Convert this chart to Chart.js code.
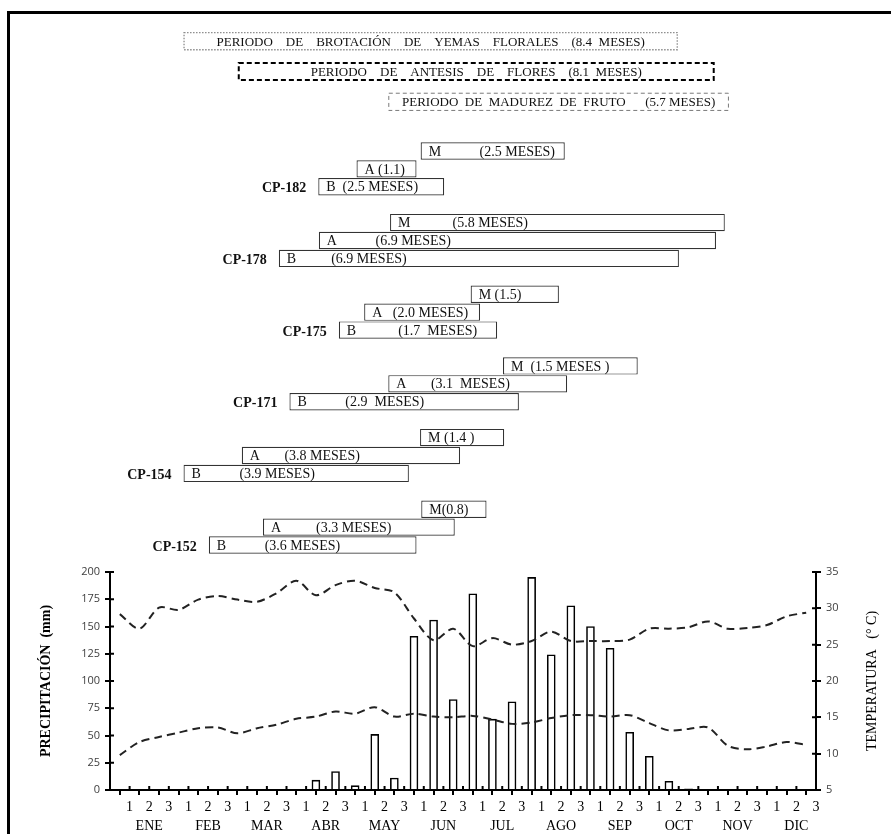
<!DOCTYPE html>
<html><head><meta charset="utf-8">
<script src="https://cdn.jsdelivr.net/npm/chart.js@4.4.0/dist/chart.umd.min.js"></script>
<style>
html,body{margin:0;padding:0;background:#fff;}
#wrap{position:relative;width:891px;height:834px;overflow:hidden;background:#fff;}
#frame{position:absolute;left:7px;top:11px;width:1000px;height:1000px;border-top:3px solid #000;border-left:3px solid #000;}
#per{position:absolute;left:0;top:0;}
#top{position:absolute;left:0;top:125px;}
#bot{position:absolute;left:0;top:556px;}
</style></head><body>
<div id="wrap"><div id="frame"></div>
<canvas id="per" width="891" height="125"></canvas>
<canvas id="top" width="891" height="431"></canvas>
<canvas id="bot" width="891" height="278"></canvas>
</div>
<script>
// ---------- DATA ----------
const months = ['ENE','FEB','MAR','ABR','MAY','JUN','JUL','AGO','SEP','OCT','NOV','DIC'];
const decadeNames = ['1','2','3'];
// precipitation per 10-day period (mm), 36 decades
const precipitation = [0,0,0,0,0,0,0,0,0,0,9,17,4,51,11,141,156,83,180,65,81,195,124,169,150,130,53,31,8,1,0,0,0,0,0,0];
// maximum temperature per decade (°C)
const tempMax = [29.2,27.2,30.1,29.8,31.2,31.7,31.2,30.9,32.1,33.8,31.8,33.2,33.8,32.8,32.2,28.6,25.6,27.2,24.8,25.9,25.0,25.5,26.8,25.5,25.5,25.5,25.7,27.2,27.2,27.4,28.2,27.2,27.3,27.7,28.9,29.4];
// minimum temperature per decade (°C)
const tempMin = [9.8,11.6,12.3,12.9,13.5,13.6,12.8,13.5,14.0,14.8,15.1,15.8,15.5,16.4,15.1,15.5,15.1,15.0,15.2,14.7,14.1,14.3,14.9,15.3,15.3,15.1,15.3,14.2,13.2,13.4,13.6,11.1,10.6,11.0,11.6,11.2];

// overall periods (month units, 0 = start of ENE)
const periodKeys = ['BROT','ANT','MAD'];
const periodTexts = [
  'PERIODO    DE    BROTACIÓN    DE    YEMAS    FLORALES    (8.4  MESES)',
  'PERIODO    DE    ANTESIS    DE    FLORES    (8.1  MESES)',
  'PERIODO  DE  MADUREZ  DE  FRUTO      (5.7 MESES)'
];
const periodStart = [1.25, 2.18, 4.73];
const periodEnd   = [9.65, 10.27, 10.52];

// clones and phases (B = brotación, A = antesis, M = madurez), month units
const clones = ['CP-182','CP-178','CP-175','CP-171','CP-154','CP-152'];
const phaseMStart = [5.28, 4.76, 6.13, 6.68, 5.27, 5.29];
const phaseMEnd   = [7.73, 10.45, 7.63, 8.97, 6.70, 6.40];
const phaseAStart = [4.19, 3.55, 4.32, 4.73, 2.24, 2.60];
const phaseAEnd   = [5.21, 10.30, 6.29, 7.77, 5.95, 5.86];
const phaseBStart = [3.54, 2.87, 3.89, 3.05, 1.25, 1.68];
const phaseBEnd   = [5.68, 9.67, 6.58, 6.95, 5.08, 5.21];
const textM = ['M'+' '.repeat(11)+'(2.5 MESES)', 'M'+' '.repeat(12)+'(5.8 MESES)', 'M (1.5)', 'M  (1.5 MESES )', 'M (1.4 )', 'M(0.8)'];
const textA = ['A (1.1)', 'A'+' '.repeat(11)+'(6.9 MESES)', 'A   (2.0 MESES)', 'A'+' '.repeat(7)+'(3.1  MESES)', 'A'+' '.repeat(7)+'(3.8 MESES)', 'A'+' '.repeat(10)+'(3.3 MESES)'];
const textB = ['B  (2.5 MESES)', 'B'+' '.repeat(10)+'(6.9 MESES)', 'B'+' '.repeat(12)+'(1.7  MESES)', 'B'+' '.repeat(11)+'(2.9  MESES)', 'B'+' '.repeat(11)+'(3.9 MESES)', 'B'+' '.repeat(11)+'(3.6 MESES)'];

// ---------- PERIODS CHART ----------
const periodStyles = [
  {color:'#8c8c8c', width:1.3, dash:[1.5,1.5]},
  {color:'#000', width:2, dash:[5,3]},
  {color:'#7a7a7a', width:1, dash:[4,3]}
];
const periodDraw = {
  id:'periodDraw',
  afterDatasetsDraw(chart){
    const ctx = chart.ctx; ctx.save();
    chart.getDatasetMeta(0).data.forEach((el,i)=>{
      const l = Math.min(el.x, el.base), r = Math.max(el.x, el.base);
      const t = el.y - el.height/2, h = el.height;
      const st = periodStyles[i];
      ctx.strokeStyle = st.color; ctx.lineWidth = st.width; ctx.setLineDash(st.dash);
      ctx.strokeRect(l+0.5, t+0.5, r-l-1, h-1);
      ctx.setLineDash([]);
      ctx.fillStyle = '#111'; ctx.font = '13px "Liberation Serif"';
      ctx.textAlign = 'center'; ctx.textBaseline = 'middle';
      ctx.fillText(chart.data.datasets[0].data[i].text, (l+r)/2, el.y+1);
    });
    ctx.restore();
  }
};
new Chart(document.getElementById('per'), {
  type:'bar',
  data:{ labels: periodKeys, datasets:[
    {data: periodTexts.map((t,i)=>({x:[periodStart[i], periodEnd[i]], y:periodKeys[i], text:t})),
     backgroundColor:'#fff', borderWidth:0, barPercentage:0.6, categoryPercentage:1}
  ]},
  options:{
    indexAxis:'y', responsive:false, animation:false, events:[],
    layout:{padding:{left:110, right:75, top:26, bottom:8}},
    plugins:{legend:{display:false}, tooltip:{enabled:false}},
    scales:{ x:{type:'linear', min:0, max:12, display:false}, y:{type:'category', display:false} }
  },
  plugins:[periodDraw]
});

// ---------- CLONES (Gantt) CHART ----------
const rows = [];
clones.forEach((c,i)=>{ rows.push(c+'M', c+'A', c+'B'); if(i<clones.length-1) rows.push('gap'+i); });
const phaseData = [];
clones.forEach((c,i)=>{
  phaseData.push({x:[phaseMStart[i], phaseMEnd[i]], y:c+'M', text:textM[i]});
  phaseData.push({x:[phaseAStart[i], phaseAEnd[i]], y:c+'A', text:textA[i]});
  phaseData.push({x:[phaseBStart[i], phaseBEnd[i]], y:c+'B', text:textB[i], clone:c});
});
const ganttText = {
  id:'ganttText',
  afterDatasetsDraw(chart){
    const ctx = chart.ctx; ctx.save();
    chart.getDatasetMeta(0).data.forEach((el,i)=>{
      const d = chart.data.datasets[0].data[i];
      const l = Math.min(el.x, el.base);
      ctx.fillStyle = '#111'; ctx.font = '14px "Liberation Serif"';
      ctx.textAlign = 'left'; ctx.textBaseline = 'middle';
      ctx.fillText(d.text, l+8, el.y+1);
      if (d.clone){
        ctx.font = 'bold 14px "Liberation Serif"';
        ctx.textAlign = 'right';
        ctx.fillText(d.clone, l-12, el.y+2);
      }
    });
    ctx.restore();
  }
};
new Chart(document.getElementById('top'), {
  type:'bar',
  data:{ labels: rows, datasets:[
    {data: phaseData, backgroundColor:'#fff', borderColor:'#333', borderWidth:1.2, borderSkipped:false, grouped:false, barPercentage:0.97, categoryPercentage:1}
  ]},
  options:{
    indexAxis:'y', responsive:false, animation:false, events:[],
    layout:{padding:{left:110, right:75, top:17, bottom:2}},
    plugins:{legend:{display:false}, tooltip:{enabled:false}},
    scales:{ x:{type:'linear', min:0, max:12, display:false}, y:{type:'category', labels: rows, display:false} }
  },
  plugins:[ganttText]
});

// ---------- BOTTOM CHART ----------
const innerTicks = {
  id:'innerTicks',
  afterDraw(chart){
    const {ctx, chartArea:a} = chart;
    const sx = chart.scales.x, sy = chart.scales.y, sy2 = chart.scales.y2;
    ctx.save(); ctx.strokeStyle='#000'; ctx.lineWidth=2; ctx.beginPath();
    sx.ticks.forEach(t=>{const p=sx.getPixelForValue(t.value); ctx.moveTo(p,a.bottom); ctx.lineTo(p,a.bottom-4);});
    sy.ticks.forEach(t=>{const p=sy.getPixelForValue(t.value); ctx.moveTo(a.left,p); ctx.lineTo(a.left+4,p);});
    sy2.ticks.forEach(t=>{const p=sy2.getPixelForValue(t.value); ctx.moveTo(a.right,p); ctx.lineTo(a.right-4,p);});
    ctx.stroke();
    // right axis title (reads bottom to top)
    ctx.fillStyle='#000'; ctx.font='14px "Liberation Serif"';
    ctx.translate(872, (a.top+a.bottom)/2); ctx.rotate(-Math.PI/2);
    ctx.textAlign='center'; ctx.textBaseline='middle';
    ctx.fillText('TEMPERATURA   (° C)', 0, 0);
    ctx.restore();
  }
};

const axisGrid = {drawOnChartArea:false, color:'#000', lineWidth:2, tickLength:5};
const axisBorder = {color:'#000', width:2};
const sansTicks = {family:'"Open Sans"', size:11};

new Chart(document.getElementById('bot'), {
  type:'bar',
  data:{ datasets:[
    {type:'bar', data: precipitation.map((v,i)=>({x:i+0.5, y:v})), yAxisID:'y', backgroundColor:'#fff', borderColor:'#000', borderWidth:1.6, barThickness:8, order:2},
    {type:'line', data: tempMax.map((v,i)=>({x:i+0.5, y:v})), yAxisID:'y2', borderColor:'#222', borderWidth:2, borderDash:[8,5], pointRadius:0, tension:0.3, fill:false, order:1},
    {type:'line', data: tempMin.map((v,i)=>({x:i+0.5, y:v})), yAxisID:'y2', borderColor:'#222', borderWidth:2, borderDash:[8,5], pointRadius:0, tension:0.3, fill:false, order:1}
  ]},
  options:{
    responsive:false, animation:false, events:[],
    layout:{padding:{left:0, right:0, top:16, bottom:0}},
    plugins:{legend:{display:false}, tooltip:{enabled:false}},
    scales:{
      x:{type:'linear', min:0, max:36, offset:false,
         ticks:{stepSize:1, autoSkip:false, maxRotation:0, color:'#000', padding:3,
                font:{family:'"Liberation Serif"', size:14, lineHeight:1.35},
                callback:(v)=>{ if(v===0) return ''; const d=(v-1)%3; return d===1 ? [decadeNames[d], months[(v-2)/3]] : decadeNames[d]; }},
         grid:axisGrid, border:axisBorder,
         afterFit:(s)=>{ s.height = 44; }},
      y:{position:'left', min:0, max:200,
         ticks:{stepSize:25, color:'#404040', padding:5, font:sansTicks},
         grid:axisGrid, border:axisBorder,
         title:{display:true, text:'PRECIPITACIÓN  (mm)', color:'#000', padding:{top:38, bottom:0},
                font:{family:'"Liberation Serif"', size:14, weight:'bold'}},
         afterFit:(s)=>{ s.width = 110; }},
      y2:{position:'right', min:5, max:35,
         ticks:{stepSize:5, color:'#404040', padding:5, font:sansTicks},
         grid:axisGrid, border:axisBorder,
         afterFit:(s)=>{ s.width = 75; }}
    }
  },
  plugins:[innerTicks]
});
</script>
</body></html>
